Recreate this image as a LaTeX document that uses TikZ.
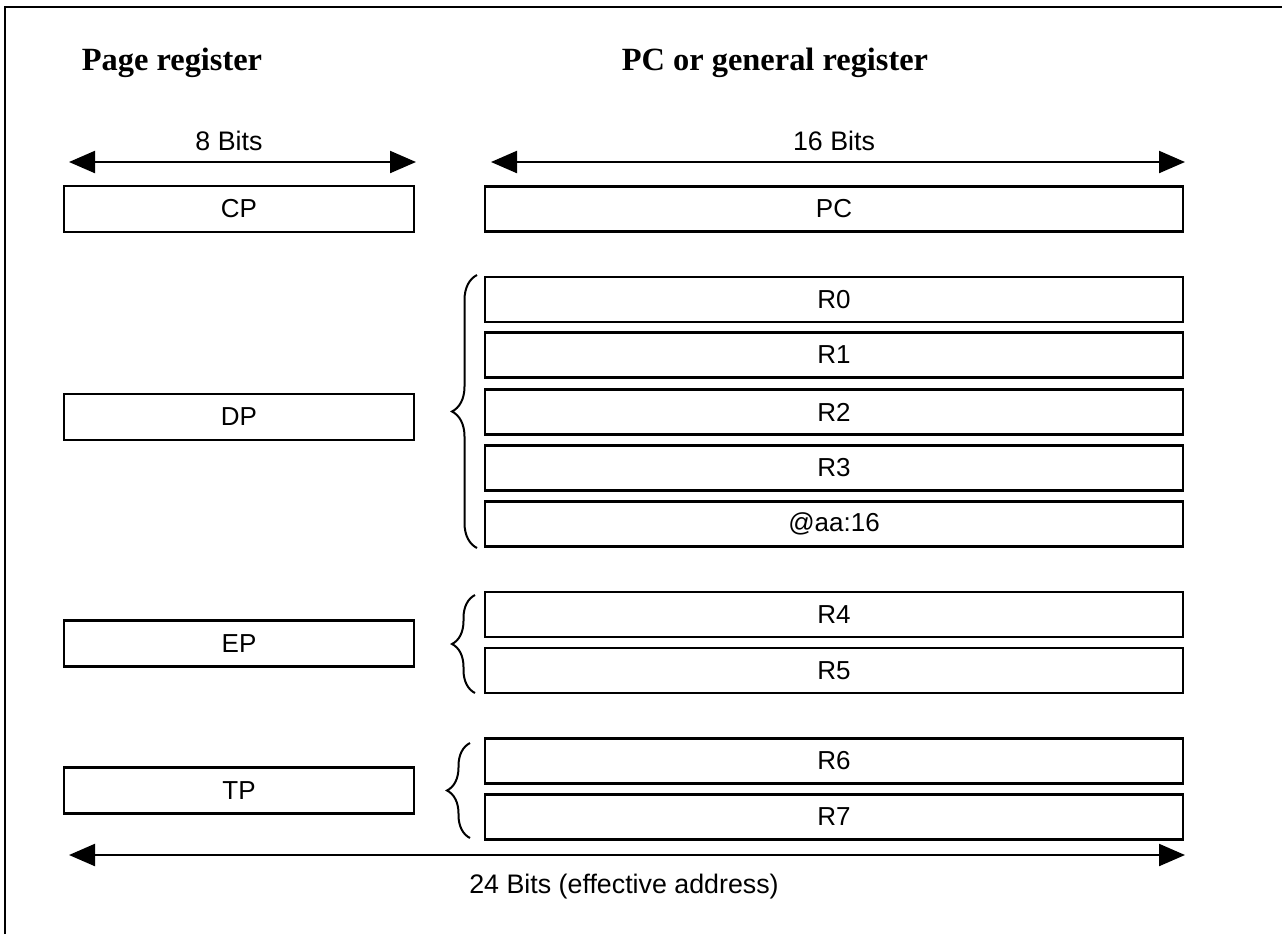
\documentclass[tikz,border=0pt]{standalone}
\usepackage{fontspec}
\setmainfont{Liberation Serif}
\setsansfont{Liberation Sans}
\usetikzlibrary{arrows.meta,decorations.pathreplacing}
\begin{document}
\begin{tikzpicture}[x=0.5pt,y=-0.5pt,
  reg/.style={draw,line width=1.3pt,inner sep=0pt,
    font=\sffamily\fontsize{13}{15}\selectfont},
  pagereg/.style={reg,minimum width=175pt,minimum height=23pt},
  genreg/.style={reg,minimum width=349pt,minimum height=22.5pt},
  heading/.style={font=\bfseries\fontsize{16.2}{19}\selectfont,anchor=base},
  bitlabel/.style={font=\sffamily\fontsize{13.4}{16}\selectfont,anchor=base},
  span/.style={line width=1.1pt,
    {Triangle[length=13pt,width=11pt]}-{Triangle[length=13pt,width=11pt]}},
  grp/.style={line width=1pt,decorate,decoration={brace,amplitude=#1}},
]
\useasboundingbox (0,0) rectangle (1282,934);

% outer frame (top and left edges)
\draw[line width=1.2pt] (5,934) -- (5,7) -- (1282,7);

% column headings
\node[heading] (hpage) at (172,70) {Page register};
\node[heading] (hgen)  at (775,70) {PC or general register};

% width arrows
\coordinate (a8l)  at (69,162);
\coordinate (a8r)  at (416,162);
\coordinate (a16l) at (491,162);
\coordinate (a16r) at (1185,162);
\coordinate (a24l) at (69,855);
\coordinate (a24r) at (1185,855);
\draw[span] (a8l) -- (a8r);
\draw[span] (a16l) -- (a16r);
\draw[span] (a24l) -- (a24r);
\node[bitlabel] (l8)  at (229,150) {8 Bits};
\node[bitlabel] (l16) at (834,150) {16 Bits};
\node[bitlabel] (l24) at (624,893) {24 Bits (effective address)};

% page registers
\node[pagereg] (CP) at (239,209)   {CP};
\node[pagereg] (DP) at (239,417)   {DP};
\node[pagereg] (EP) at (239,643.5) {EP};
\node[pagereg] (TP) at (239,790.5) {TP};

% PC and general registers
\node[genreg] (PC) at (834,209)   {PC};
\node[genreg] (R0) at (834,299.5) {R0};
\node[genreg] (R1) at (834,355)   {R1};
\node[genreg] (R2) at (834,412)   {R2};
\node[genreg] (R3) at (834,468)   {R3};
\node[genreg] (aa) at (834,524)   {@aa:16};
\node[genreg] (R4) at (834,614.5) {R4};
\node[genreg] (R5) at (834,670.5) {R5};
\node[genreg] (R6) at (834,761)   {R6};
\node[genreg] (R7) at (834,817)   {R7};

% braces grouping registers with their page register
\draw[grp=12.5pt] (477,548) -- (477,275);
\draw[grp=11.5pt] (475,693) -- (475,595);
\draw[grp=11.5pt] (470,838) -- (470,743);
\end{tikzpicture}
\end{document}
